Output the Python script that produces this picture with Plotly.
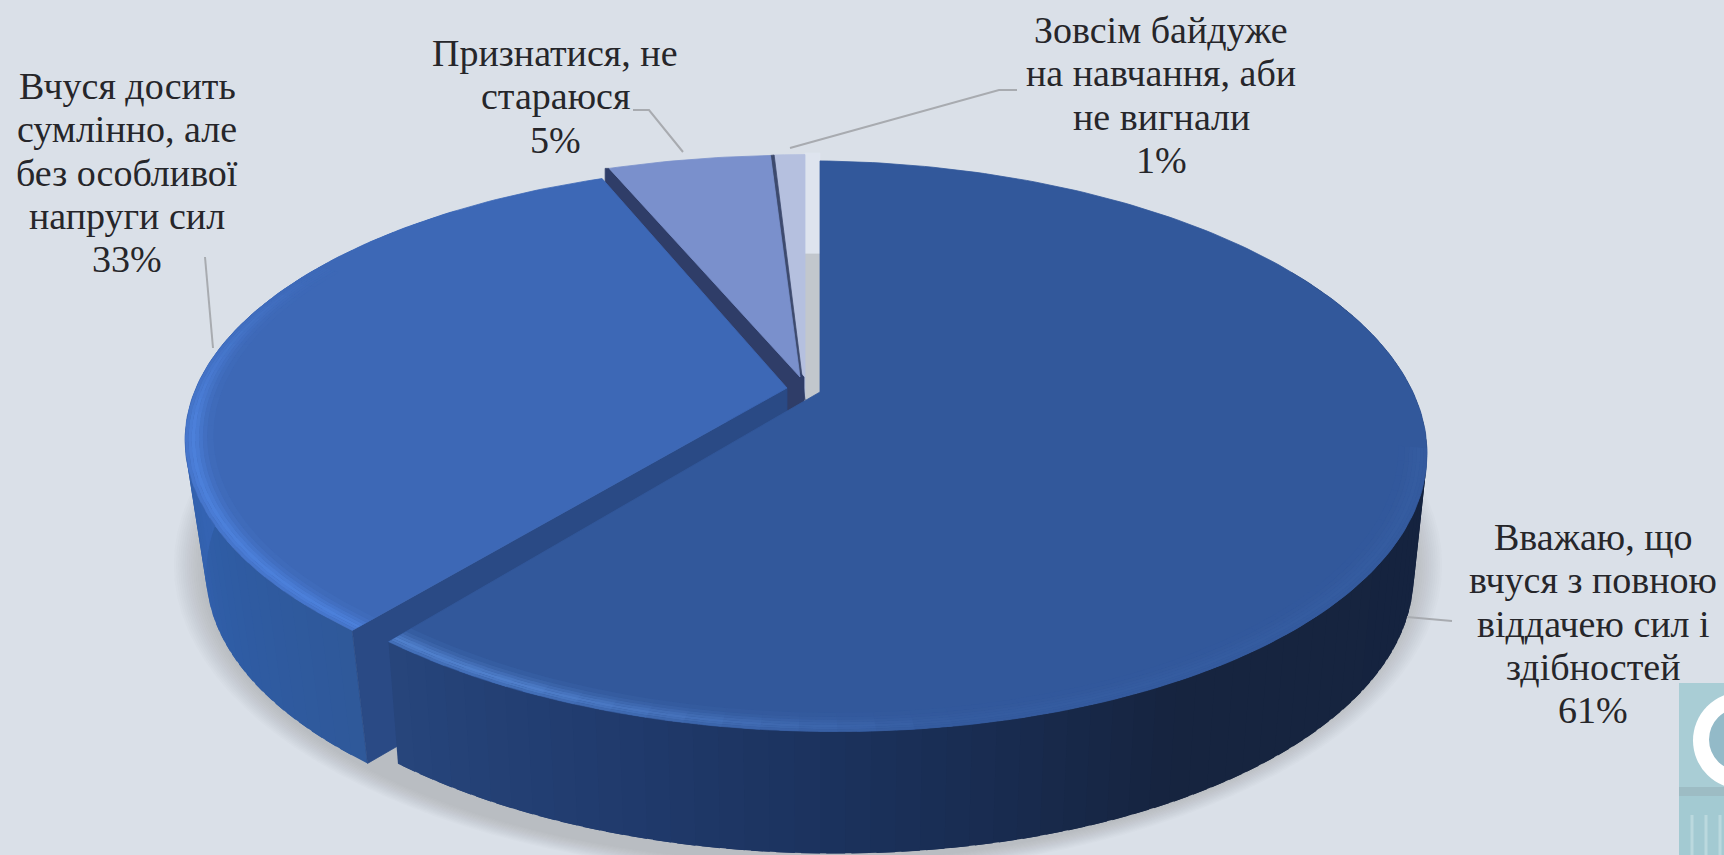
import math
import plotly.graph_objects as go

# ---- data ----
categories = [
    "Вважаю, що<br>вчуся з повною<br>віддачею сил і<br>здібностей",
    "Вчуся досить<br>сумлінно, але<br>без особливої<br>напруги сил",
    "Признатися, не<br>стараюся",
    "Зовсім байдуже<br>на навчання, аби<br>не вигнали",
]
values = [61, 33, 5, 1]

# ---- drawing style: perspective pie geometry in page pixels ----
W, H = 1724, 855
BG = "#DAE0E8"
PERSP = 0.19
apex_x = [820, 787, 800, 805]
apex_y = [392, 388, 377, 400]
radius_x = [596, 591, 610, 585]
radius_y = [275, 265, 264, 292]
shear = [0.012, 0.0, 0.0, 0.0]
wall_h = [122, 133, 125, 125]
wall_sx = [0.978, 0.965, 0.98, 0.98]
# small angle nudges of the exploded 3-D view
nudge_start = [0.0, -0.8, 0.0, 0.0]
nudge_end = [-1.6, 0.0, 0.3, 0.0]
face_col = ["#32589B", "#3D68B6", "#7A90CC", "#B5C0DF"]
rim_col = ["#4F7FCB", "#4C80DA", "#8CA2DC", "#C0CBE8"]
label_x = [1593, 127, 555, 1161]
label_y = [537, 86, 53, 30]
LINE_GAP = 43.3
FONT_SIZE = 38
leaders = [
    [(1407, 617), (1430, 619), (1452, 621)],
    [(205, 257), (213, 348)],
    [(633, 110), (649, 110), (683, 152)],
    [(1017, 90), (999, 90), (790, 148)],
]
main_wall_stops = [(100, "#15233F"), (150, "#16243F"), (175, "#1A3059"), (195, "#203A6C"), (222, "#28487F")]
blue_wall_stops = [(215, "#2F5898"), (240, "#2F5CA4"), (265, "#3463B2"), (300, "#3A6BBD")]


def hex2rgb(h):
    return tuple(int(h[i:i + 2], 16) for i in (1, 3, 5))


def mix(a, b, t):
    ca, cb = hex2rgb(a), hex2rgb(b)
    return "#%02X%02X%02X" % tuple(round(x + (y - x) * t) for x, y in zip(ca, cb))


def stop_color(stops, th):
    if th <= stops[0][0]:
        return stops[0][1]
    for (t0, c0), (t1, c1) in zip(stops, stops[1:]):
        if th <= t1:
            return mix(c0, c1, (th - t0) / (t1 - t0))
    return stops[-1][1]


def pt(i, th, r=1.0, wall=False):
    a = math.radians(th)
    u, v = r * math.sin(a), -r * math.cos(a)
    w = 1 - PERSP * v
    sx = wall_sx[i] if wall else 1.0
    dx = radius_x[i] * u / w
    x = apex_x[i] + sx * dx
    y = apex_y[i] + radius_y[i] * v / w + shear[i] * dx + (wall_h[i] if wall else 0)
    return x, y


def arange(a, b, step):
    n = max(1, int(abs(b - a) / step))
    return [a + (b - a) * k / n for k in range(n + 1)]


fig = go.Figure()


def poly(pts, color, line=True):
    xs = [p[0] for p in pts] + [pts[0][0]]
    ys = [p[1] for p in pts] + [pts[0][1]]
    fig.add_trace(go.Scatter(
        x=xs, y=ys, mode="lines", fill="toself", fillcolor=color,
        line=dict(color=color if line else "rgba(0,0,0,0)", width=0.8 if line else 0),
        hoverinfo="skip", showlegend=False))


total = sum(values)
edges = [0.0]
for val in values:
    edges.append(edges[-1] + 360.0 * val / total)
spans = [(edges[k] + nudge_start[k], edges[k + 1] + nudge_end[k]) for k in range(len(values))]

# soft shadow under the pie
n_sh = 14
for k in range(n_sh, 0, -1):
    grow = 1 + 0.05 * k / n_sh
    pts = []
    for th in arange(0, 360, 3):
        a = math.radians(th)
        pts.append((808 + 604 * grow * math.sin(a), 565 - 296 * grow * math.cos(a)))
    poly(pts, "rgba(95,95,100,0.018)", line=False)


def wall_strips(i, stops, t0, t1):
    ths = arange(t0, t1, 2)
    for a, b in zip(ths, ths[1:]):
        col = stop_color(stops, (a + b) / 2)
        b2 = min(b + 1.5, t1)
        poly([pt(i, a), pt(i, b2), pt(i, b2, wall=True), pt(i, a, wall=True)], col, line=False)


def face(i):
    t0, t1 = spans[i]
    pts = [(apex_x[i], apex_y[i])] + [pt(i, th) for th in arange(t0, t1, 1)]
    poly(pts, face_col[i])


RIM_BANDS = [(0.955, 0.965, 0.12), (0.965, 0.972, 0.3), (0.972, 0.978, 0.55), (0.978, 0.984, 0.8),
             (0.984, 0.99, 1.0), (0.99, 0.995, 0.85), (0.995, 1.0, 0.6)]


def rim(i, strength):
    t0, t1 = spans[i]
    for r0, r1, p in RIM_BANDS:
        ths = arange(t0, t1, 3)
        for a, b in zip(ths, ths[1:]):
            s = strength((a + b) / 2)
            if s <= 0.01:
                continue
            col = mix(face_col[i], rim_col[i], s * p)
            b2 = min(b + 1.5, t1)
            poly([pt(i, a, r0), pt(i, b2, r0), pt(i, b2, r1), pt(i, a, r1)], col, line=False)


def main_rim(th):
    if th > 205:
        return 1.0
    if th > 170:
        return 0.1 + 0.9 * (th - 170) / 35
    return 0.1 if th > 100 else 0.0


def blue_rim(th):
    if th < 262:
        return 1.0
    return max(0.0, 1 - (th - 262) / 38)


# narrow gap between the 1 % slice and the 61 % slice
gap_l, gap_r = apex_x[3], apex_x[0]
poly([(gap_l, 153), (gap_r, 153), (gap_r, 254), (gap_l, 254)], "#DEE4EE")
poly([(gap_l, 254), (gap_r, 254), (gap_r, apex_y[0] + 3), (gap_l, apex_y[3] + 2)], "#C2C7CD")
# 1 % slice
face(3)
# dark sliver between the 5 % and 1 % slices
poly([pt(2, spans[2][1]), pt(3, spans[3][0]), (apex_x[3], apex_y[3]), (apex_x[2], apex_y[2] + 8)], "#3D4A6E")
# 5 % slice: cut wall, then top
t0 = spans[2][0]
poly([(apex_x[2] + 4, apex_y[2]), pt(2, t0),
      (pt(2, t0)[0] - 4, pt(2, t0)[1]),
      (pt(2, t0)[0] - 4, pt(2, t0)[1] + wall_h[2]),
      (apex_x[2] + 4, apex_y[2] + wall_h[2])], "#2F3D68")
face(2)
# 33 % slice: outer wall, cut wall, top, rim
t0 = spans[1][0]
wall_strips(1, blue_wall_stops, t0, 320)
poly([(apex_x[1], apex_y[1]), pt(1, t0), pt(1, t0, wall=True),
      (apex_x[1], apex_y[1] + wall_h[1])], "#2A4A85")
face(1)
rim(1, blue_rim)
# 61 % slice
wall_strips(0, main_wall_stops, 60, spans[0][1])
face(0)
rim(0, main_rim)

# leader lines
for seg in leaders:
    fig.add_trace(go.Scatter(x=[p[0] for p in seg], y=[p[1] for p in seg], mode="lines",
                             line=dict(color="#A8ABB0", width=2), hoverinfo="skip", showlegend=False))

# labels: one annotation per line, so the line gap can stay tighter than the font's default
annotations = []
for cat, val, lx, ly in zip(categories, values, label_x, label_y):
    lines = cat.split("<br>") + [f"{val}%"]
    for n, txt in enumerate(lines):
        annotations.append(dict(
            x=lx, y=ly + n * LINE_GAP, xref="x", yref="y", showarrow=False,
            xanchor="center", yanchor="middle", align="center", text=txt,
            font=dict(family="Liberation Serif", size=FONT_SIZE, color="#26262A")))

# corner picture fragment
shapes = [
    dict(type="rect", x0=1679, x1=1730, y0=683, y1=860, fillcolor="#A9CDD5", line_width=0, layer="above"),
    dict(type="circle", x0=1693, x1=1790, y0=692, y1=789, fillcolor="#FFFFFF", line_width=0, layer="above"),
    dict(type="circle", x0=1709, x1=1772, y0=708, y1=771, fillcolor="#93BAC8", line_width=0, layer="above"),
    dict(type="rect", x0=1679, x1=1730, y0=787, y1=796, fillcolor="#9DBCC4", line_width=0, layer="above"),
    dict(type="rect", x0=1679, x1=1730, y0=796, y1=860, fillcolor="#A3CAD2", line_width=0, layer="above"),
]
for cx in (1692, 1706, 1720):
    shapes.append(dict(type="line", x0=cx, x1=cx, y0=815, y1=860, line=dict(color="#BBD9DE", width=3), layer="above"))

fig.update_layout(
    width=W, height=H, autosize=False,
    margin=dict(l=0, r=0, t=0, b=0),
    paper_bgcolor=BG, plot_bgcolor=BG,
    showlegend=False, hovermode=False,
    xaxis=dict(range=[0, W], visible=False, fixedrange=True),
    yaxis=dict(range=[H, 0], visible=False, fixedrange=True),
    annotations=annotations, shapes=shapes,
)
fig.write_html("out.html", config={"displayModeBar": False},
               post_script="document.body.style.margin='0';document.body.style.overflow='hidden';")
